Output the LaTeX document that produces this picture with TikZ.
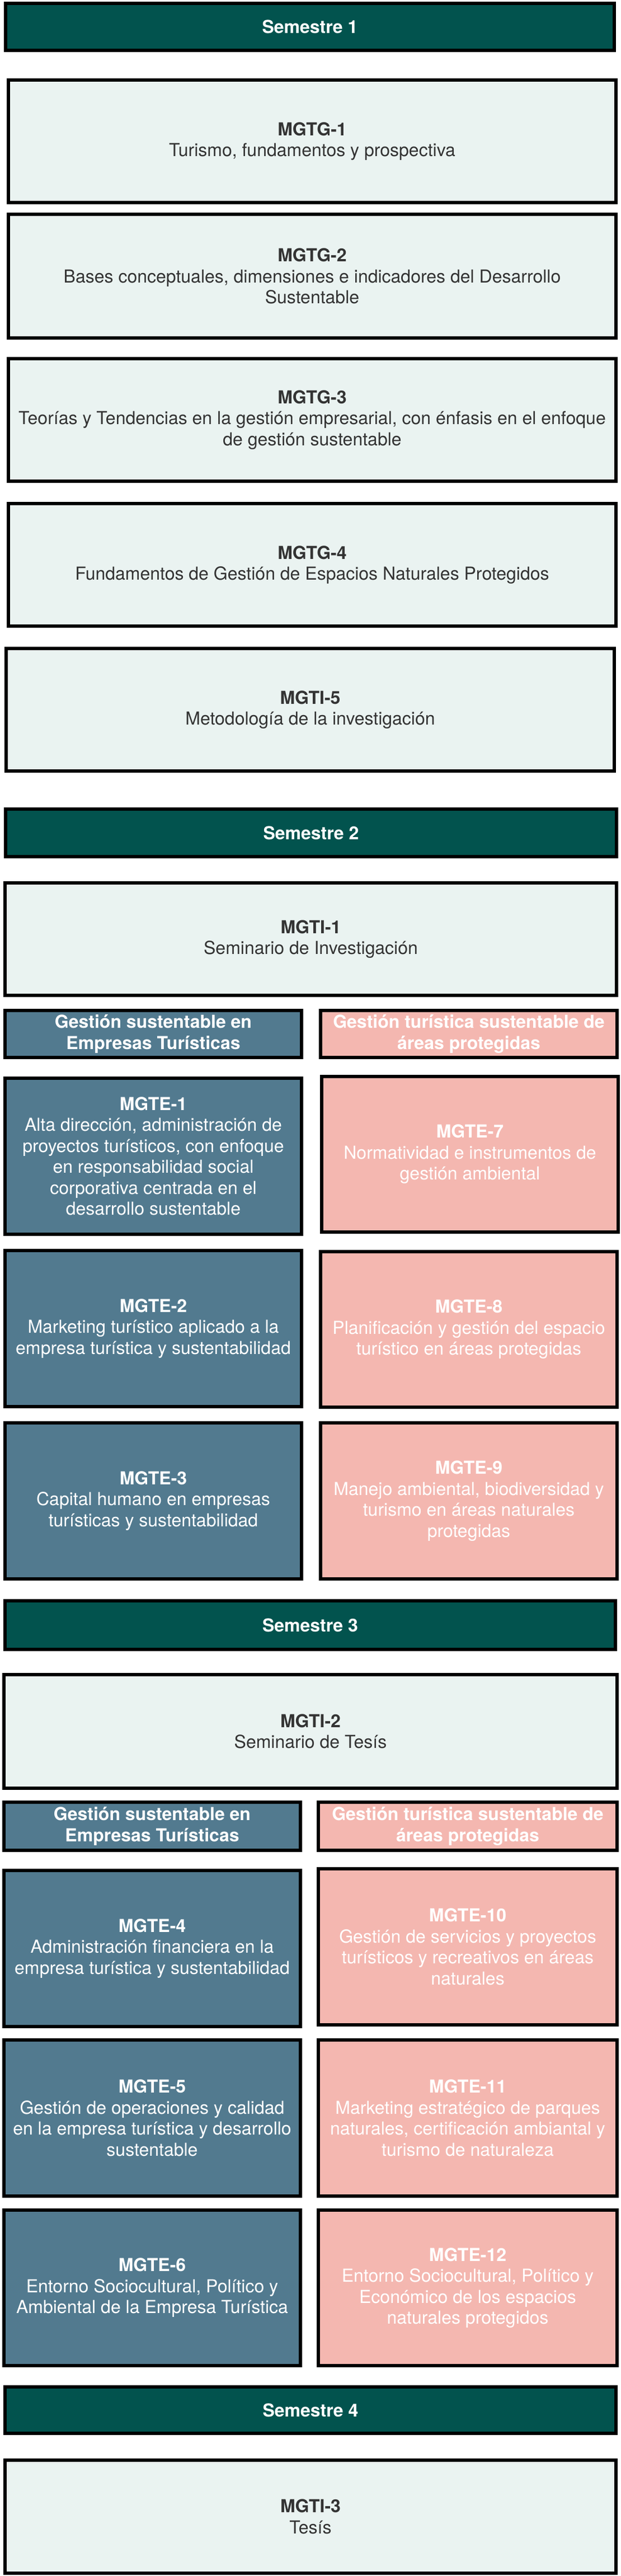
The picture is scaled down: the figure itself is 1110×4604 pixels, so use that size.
\documentclass[tikz,border=0pt]{standalone}
\usepackage{fontspec}
\setmainfont{TeX Gyre Heros}
\definecolor{teal1}{HTML}{02534E}
\definecolor{lightc}{HTML}{EAF3F1}
\definecolor{bluec}{HTML}{527A8F}
\definecolor{pinkc}{HTML}{F4B7B0}
\definecolor{darktext}{HTML}{333333}
\tikzset{
  basebox/.style={draw=black, line width=6pt, inner sep=0pt, align=center,
    font=\fontsize{32}{37.5}\selectfont},
  semhead/.style={basebox, fill=teal1, text=white, font=\fontsize{32}{37.5}\selectfont\bfseries},
  lightbox/.style={basebox, fill=lightc, text=darktext},
  bluebox/.style={basebox, fill=bluec, text=white},
  pinkbox/.style={basebox, fill=pinkc, text=white},
  bluehead/.style={bluebox, font=\fontsize{32}{37.5}\selectfont\bfseries},
  pinkhead/.style={pinkbox, font=\fontsize{32}{37.5}\selectfont\bfseries},
}
\newcommand\mybox[7]{%
  \node[#2, minimum width={#5-#3-6}, minimum height={#6-#4-6}] (#1)
    at ({(#3+#5)/2},{(#4+#6)/2}) {#7};}
\begin{document}
\begin{tikzpicture}[x=1pt,y=-1pt]
\useasboundingbox (0,0) rectangle (1110,4604);
% Semestre 1
\mybox{h1}{semhead}{7}{3}{1101}{93}{Semestre 1}
\mybox{mgtg1}{lightbox}{12}{140}{1104}{365}{\textbf{MGTG-1}\\Turismo, fundamentos y prospectiva}
\mybox{mgtg2}{lightbox}{12}{380}{1104}{607}{\textbf{MGTG-2}\\Bases conceptuales, dimensiones e indicadores del Desarrollo\\Sustentable}
\mybox{mgtg3}{lightbox}{12}{638}{1104}{863}{\textbf{MGTG-3}\\Teorías y Tendencias en la gestión empresarial, con énfasis en el enfoque\\de gestión sustentable}
\mybox{mgtg4}{lightbox}{12}{897}{1104}{1122}{\textbf{MGTG-4}\\Fundamentos de Gestión de Espacios Naturales Protegidos}
\mybox{mgti5}{lightbox}{8}{1156}{1101}{1381}{\textbf{MGTI-5}\\Metodología de la investigación}
% Semestre 2
\mybox{h2}{semhead}{7}{1443}{1105}{1534}{Semestre 2}
\mybox{mgti1}{lightbox}{6}{1575}{1105}{1782}{\textbf{MGTI-1}\\Seminario de Investigación}
\mybox{gl1}{bluehead}{6}{1803}{542}{1893}{Gestión sustentable en\\Empresas Turísticas}
\mybox{gr1}{pinkhead}{570}{1803}{1106}{1893}{Gestión turística sustentable de\\áreas protegidas}
\mybox{mgte1}{bluebox}{6}{1924}{542}{2209}{\textbf{MGTE-1}\\Alta dirección, administración de\\proyectos turísticos, con enfoque\\en responsabilidad social\\corporativa centrada en el\\desarrollo sustentable}
\mybox{mgte7}{pinkbox}{572}{1921}{1108}{2205}{\textbf{MGTE-7}\\Normatividad e instrumentos de\\gestión ambiental}
\mybox{mgte2}{bluebox}{6}{2232}{542}{2517}{\textbf{MGTE-2}\\Marketing turístico aplicado a la\\empresa turística y sustentabilidad}
\mybox{mgte8}{pinkbox}{570}{2234}{1106}{2518}{\textbf{MGTE-8}\\Planificación y gestión del espacio\\turístico en áreas protegidas}
\mybox{mgte3}{bluebox}{6}{2540}{542}{2825}{\textbf{MGTE-3}\\Capital humano en empresas\\turísticas y sustentabilidad}
\mybox{mgte9}{pinkbox}{570}{2540}{1106}{2825}{\textbf{MGTE-9}\\Manejo ambiental, biodiversidad y\\turismo en áreas naturales\\protegidas}
% Semestre 3
\mybox{h3}{semhead}{6}{2858}{1103}{2951}{Semestre 3}
\mybox{mgti2}{lightbox}{4}{2990}{1106}{3199}{\textbf{MGTI-2}\\Seminario de Tesís}
\mybox{gl2}{bluehead}{4}{3218}{540}{3310}{Gestión sustentable en\\Empresas Turísticas}
\mybox{gr2}{pinkhead}{566}{3218}{1106}{3310}{Gestión turística sustentable de\\áreas protegidas}
\mybox{mgte4}{bluebox}{4}{3340}{540}{3625}{\textbf{MGTE-4}\\Administración financiera en la\\empresa turística y sustentabilidad}
\mybox{mgte10}{pinkbox}{566}{3337}{1106}{3622}{\textbf{MGTE-10}\\Gestión de servicios y proyectos\\turísticos y recreativos en áreas\\naturales}
\mybox{mgte5}{bluebox}{4}{3643}{540}{3928}{\textbf{MGTE-5}\\Gestión de operaciones y calidad\\en la empresa turística y desarrollo\\sustentable}
\mybox{mgte11}{pinkbox}{566}{3643}{1106}{3928}{\textbf{MGTE-11}\\Marketing estratégico de parques\\naturales, certificación ambiantal y\\turismo de naturaleza}
\mybox{mgte6}{bluebox}{4}{3947}{540}{4231}{\textbf{MGTE-6}\\Entorno Sociocultural, Político y\\Ambiental de la Empresa Turística}
\mybox{mgte12}{pinkbox}{566}{3947}{1106}{4231}{\textbf{MGTE-12}\\Entorno Sociocultural, Político y\\Económico de los espacios\\naturales protegidos}
% Semestre 4
\mybox{h4}{semhead}{6}{4263}{1104}{4352}{Semestre 4}
\mybox{mgti3}{lightbox}{6}{4394}{1104}{4602}{\textbf{MGTI-3}\\Tesís}
\end{tikzpicture}
\end{document}
